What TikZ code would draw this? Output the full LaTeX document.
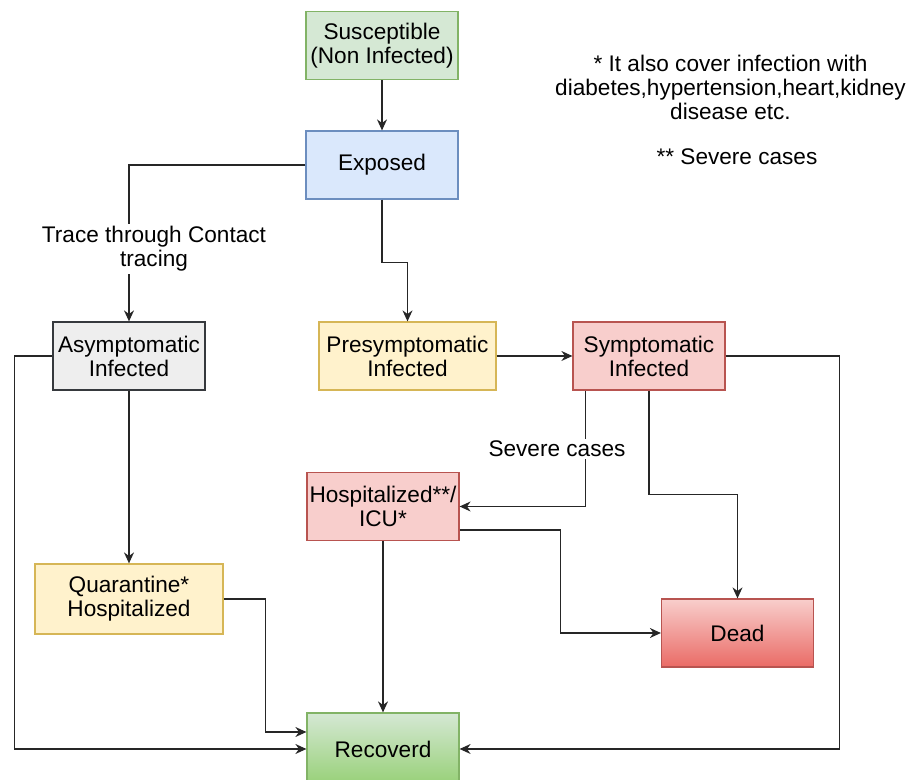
\documentclass[tikz,border=0pt]{standalone}
\usepackage{fontspec}
\setmainfont{Liberation Sans}
\usetikzlibrary{arrows.meta, positioning, calc}

\definecolor{susfill}{HTML}{D5E8D4}\definecolor{susline}{HTML}{82B366}
\definecolor{expfill}{HTML}{DAE8FC}\definecolor{expline}{HTML}{6C8EBF}
\definecolor{asyfill}{HTML}{EEEEEE}\definecolor{asyline}{HTML}{36393D}
\definecolor{yelfill}{HTML}{FFF2CC}\definecolor{yelline}{HTML}{D6B656}
\definecolor{redfill}{HTML}{F8CECC}\definecolor{redline}{HTML}{B85450}
\definecolor{deadbot}{HTML}{EA6B66}\definecolor{recbot}{HTML}{97D077}
\definecolor{linkgray}{HTML}{262626}

\begin{document}
\begin{tikzpicture}[
		x=0.5pt, y=-0.5pt,
		font=\fontsize{11.3}{12}\selectfont,
		state/.style={draw, rectangle, align=center, line width=0.6pt, minimum width=76pt, minimum height=34pt, inner xsep=0pt, inner ysep=2pt},
		arrow/.style={-{Stealth[length=5.5pt, width=5pt, inset=1.8pt]}, line width=0.6pt, draw=linkgray},
		tag/.style={fill=white, align=center, inner sep=1pt}
		]
		\useasboundingbox (0,0) rectangle (907,780);
		
		% Susceptible
		\node (sus) [state, fill=susfill, draw=susline] at (382,45.5) {Susceptible\\(Non Infected)};
		
		% Exposed
		\node (exp) [state, fill=expfill, draw=expline] at (382,165) {Exposed};
		
		% Infected states
		\node (asym) [state, fill=asyfill, draw=asyline] at (129,356) {Asymptomatic\\Infected};
		\node (pre) [state, fill=yelfill, draw=yelline, minimum width=88.5pt] at (407.5,356) {Presymptomatic\\Infected};
		\node (sym) [state, fill=redfill, draw=redline] at (649,356) {Symptomatic\\Infected};
		
		% Care
		\node (hosp) [state, fill=redfill, draw=redline] at (383,506.5) {Hospitalized**/\\ICU*};
		\node (quar) [state, fill=yelfill, draw=yelline, minimum width=94pt, minimum height=35pt] at (129,599) {Quarantine*\\Hospitalized};
		
		% Outcomes
		\node (dead) [state, top color=redfill, bottom color=deadbot, draw=redline] at (737.5,633) {Dead};
		\node (rec) [state, top color=susfill, bottom color=recbot, draw=susline, minimum height=36pt] at (383,749) {Recoverd};
		
		% Notes
		\node (note1) [align=center] at (730.5,87) {* It also cover infection with\\diabetes,hypertension,heart,kidney\\disease etc.};
		\node (note2) at (737,157) {** Severe cases};
		
		% Arrows
		\draw[arrow] (sus) -- (exp);
		\draw[arrow] (exp.west) -| (asym.north);
		\node (trace) [tag] at (154,249) {Trace through Contact\\tracing};
		\draw[arrow] (exp.south) -- ($(exp.south)+(0,63)$) -| (pre.north);
		\draw[arrow] (pre) -- (sym);
		
		\draw[arrow] ($(sym.south west)+(13,0)$) |- (hosp.east);
		\node (severe) [tag] at (557,449) {Severe cases};
		\draw[arrow] (sym.south) -- ($(sym.south)+(0,104)$) -| (dead.north);
		\draw[arrow] (sym.east) -- ($(sym.east)+(114,0)$) |- (rec.east);
		
		\draw[arrow] (asym.west) -- ($(asym.west)+(-38,0)$) |- (rec.west);
		\draw[arrow] (asym) -- (quar);
		\draw[arrow] (quar.east) -- ($(quar.east)+(42,0)$) |- ($(rec.west)+(0,-17)$);
		
		\draw[arrow] (hosp) -- (rec);
		\draw[arrow] ($(hosp.east)+(0,23.5)$) -- ($(hosp.east)+(101,23.5)$) |- (dead.west);
		
	\end{tikzpicture}
\end{document}
